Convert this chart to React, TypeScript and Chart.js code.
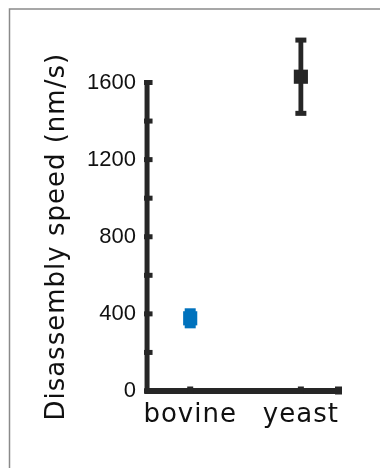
import { useEffect, useRef } from 'react';
import { Chart, LinearScale, registerables } from 'chart.js';
import { renderText, toFont, toPadding } from 'chart.js/helpers';

// Disassembly speed per species: mean with lower / upper error limits (nm/s)
const categories = ['bovine', 'yeast'];
const categoryPositions = [1, 2];
const speedMean = [377, 1630];
const speedLower = [338, 1440];
const speedUpper = [416, 1820];
const markerColors = ['#0072BD', '#262626'];

const yTickValues = [0, 200, 400, 600, 800, 1000, 1200, 1400, 1600];
const yLabelStep = 400;
const xLimits = [0.61, 2.34];
const yLimits = [0, 1600];

const AXIS_COLOR = '#262626';
const TEXT_COLOR = '#111111';
const FRAME_COLOR = '#8a8a8a';
const WIDE_TEXT_SPACING = '1px';
const WIDE_FONT = '"DejaVu Sans", Verdana, sans-serif';

// Linear scale whose category labels and title are drawn with extra letter spacing
class SpacedLinearScale extends LinearScale {
  static id = 'spacedLinear';

  drawLabels(area: any) {
    const ctx = (this as any).ctx as CanvasRenderingContext2D;
    ctx.save();
    if ((this as any).id === 'x') (ctx as any).letterSpacing = WIDE_TEXT_SPACING;
    super.drawLabels(area);
    ctx.restore();
  }

  drawTitle() {
    const self = this as any;
    const title = self.options.title;
    if (!title.display) return;
    const ctx = self.ctx as CanvasRenderingContext2D;
    const font = toFont(title.font);
    const pad = toPadding(title.padding);
    ctx.save();
    (ctx as any).letterSpacing = WIDE_TEXT_SPACING;
    renderText(ctx, title.text, 0, 0, font, {
      color: title.color,
      rotation: -Math.PI / 2,
      textAlign: 'center',
      textBaseline: 'middle',
      translation: [self.left + pad.top + font.lineHeight / 2, (self.top + self.bottom) / 2],
    });
    ctx.restore();
  }
}

Chart.register(...registerables, SpacedLinearScale);

const axesPlugin = {
  id: 'boxAxes',
  beforeDraw(chart: any) {
    const { ctx, width, height } = chart;
    ctx.save();
    ctx.strokeStyle = FRAME_COLOR;
    ctx.lineWidth = 1.5;
    ctx.beginPath();
    ctx.moveTo(9.5, height);
    ctx.lineTo(9.5, 9);
    ctx.lineTo(width, 9);
    ctx.stroke();
    ctx.restore();
  },
  beforeDatasetsDraw(chart: any) {
    const { ctx } = chart;
    const { x, y } = chart.scales;
    const x0 = x.getPixelForValue(xLimits[0]);
    const x1 = x.getPixelForValue(xLimits[1]);
    const y0 = y.getPixelForValue(yLimits[0]);
    const yTop = y.getPixelForValue(yLimits[1]);
    ctx.save();
    ctx.fillStyle = AXIS_COLOR;
    // y axis and inward ticks
    ctx.fillRect(x0 - 2.5, yTop - 2.5, 5, y0 - yTop + 5);
    yTickValues.forEach((v) => {
      const py = y.getPixelForValue(v);
      ctx.fillRect(x0 - 3, py - 2.5, 8.5, 5);
    });
    // x axis and inward ticks
    ctx.fillRect(x0 - 2.5, y0 - 3, x1 - x0 + 5, 6);
    categoryPositions.forEach((p) => {
      const px = x.getPixelForValue(p);
      ctx.fillRect(px - 3, y0 - 4.5, 6, 7.5);
    });
    ctx.fillRect(x1 - 3.5, y0 - 4.5, 7, 8);
    ctx.restore();
  },
  afterDatasetsDraw(chart: any) {
    const { ctx } = chart;
    const { x, y } = chart.scales;
    ctx.save();
    categoryPositions.forEach((p, i) => {
      const px = x.getPixelForValue(p);
      const pLow = y.getPixelForValue(speedLower[i]);
      const pHigh = y.getPixelForValue(speedUpper[i]);
      ctx.fillStyle = markerColors[i];
      ctx.fillRect(px - 2.4, pHigh, 4.8, pLow - pHigh);
      ctx.fillRect(px - 5.5, pHigh - 2.5, 11, 5);
      ctx.fillRect(px - 5.5, pLow - 2.5, 11, 5);
    });
    ctx.restore();
  },
};

export default function App() {
  const canvasRef = useRef<HTMLCanvasElement | null>(null);

  useEffect(() => {
    if (!canvasRef.current) return;
    const chart = new Chart(canvasRef.current, {
      type: 'scatter',
      data: {
        datasets: [
          {
            data: categoryPositions.map((p, i) => ({ x: p, y: speedMean[i] })),
            pointStyle: 'rect',
            pointRadius: 10,
            pointHoverRadius: 10,
            pointBorderWidth: 0,
            pointBackgroundColor: markerColors,
            pointBorderColor: markerColors,
            showLine: false,
            clip: false,
          } as any,
        ],
      },
      options: {
        animation: false,
        responsive: false,
        devicePixelRatio: 1,
        layout: { padding: { left: 28, top: 82.5, right: 41.5, bottom: 27.8 } },
        plugins: { legend: { display: false }, tooltip: { enabled: false } },
        events: [],
        scales: {
          x: {
            type: 'spacedLinear' as any,
            min: xLimits[0],
            max: xLimits[1],
            grid: { display: false, drawTicks: false },
            border: { display: false },
            afterBuildTicks: (scale: any) => {
              scale.ticks = categoryPositions.map((v) => ({ value: v }));
            },
            ticks: {
              autoSkip: false,
              maxRotation: 0,
              padding: 9,
              color: TEXT_COLOR,
              font: { family: WIDE_FONT, size: 26 },
              callback: (v: any) => {
                const i = categoryPositions.indexOf(Number(v));
                return i >= 0 ? categories[i] : '';
              },
            },
          },
          y: {
            type: 'spacedLinear' as any,
            min: yLimits[0],
            max: yLimits[1],
            grid: { display: false, drawTicks: false },
            border: { display: false },
            afterBuildTicks: (scale: any) => {
              scale.ticks = yTickValues.map((v) => ({ value: v }));
            },
            ticks: {
              autoSkip: false,
              padding: 11,
              color: TEXT_COLOR,
              font: { family: '"Liberation Sans", Arial, sans-serif', size: 22 },
              callback: (v: any) => (Number(v) % yLabelStep === 0 ? String(v) : ''),
            },
            title: {
              display: true,
              text: 'Disassembly speed (nm/s)',
              color: TEXT_COLOR,
              padding: { top: 13.9, bottom: 3.0 },
              font: { family: WIDE_FONT, size: 26 },
            },
          },
        },
      },
      plugins: [axesPlugin],
    });
    return () => chart.destroy();
  }, []);

  return (
    <div style={{ position: 'absolute', left: 0, top: 0, width: 380, height: 468, background: '#ffffff' }}>
      <canvas ref={canvasRef} width={380} height={468} style={{ width: 380, height: 468, display: 'block' }} />
    </div>
  );
}
